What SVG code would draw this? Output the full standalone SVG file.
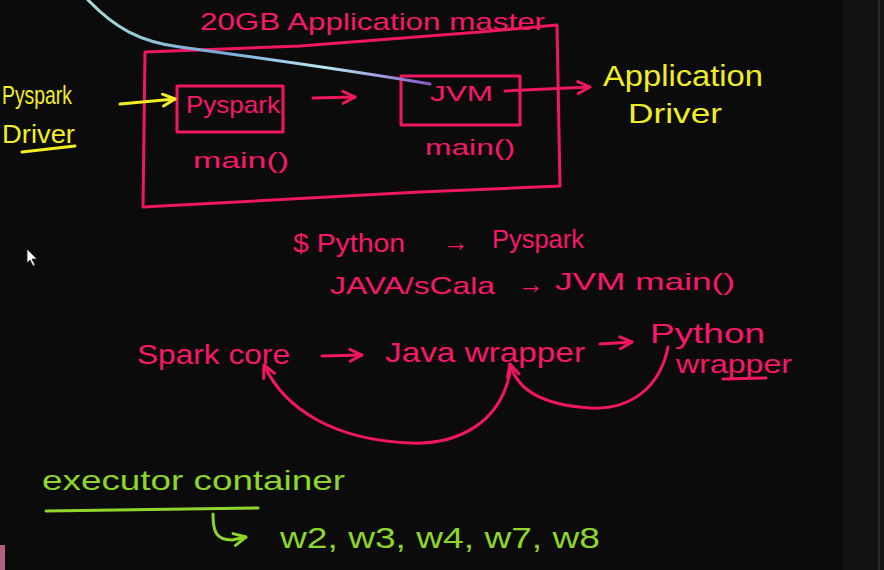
<svg xmlns="http://www.w3.org/2000/svg" width="884" height="570" viewBox="0 0 884 570">
<defs>
<style>
.p{fill:#f7186a;font-family:"Liberation Sans",Arial,sans-serif}
.y{fill:#f2ee22;font-family:"Liberation Sans",Arial,sans-serif}
.g{fill:#8ed62a;font-family:"Liberation Sans",Arial,sans-serif}
.ps{fill:none;stroke:#f0175f;stroke-width:3;stroke-linecap:round;stroke-linejoin:round}
.ys{fill:none;stroke:#f2ee22;stroke-width:3;stroke-linecap:round;stroke-linejoin:round}
.gs{fill:none;stroke:#8ed62a;stroke-width:3;stroke-linecap:round;stroke-linejoin:round}
</style>
<linearGradient id="lg" x1="88" y1="0" x2="430" y2="85" gradientUnits="userSpaceOnUse">
<stop offset="0" stop-color="#a8e0d8"/>
<stop offset="0.4" stop-color="#7aa6d8"/>
<stop offset="0.7" stop-color="#b8e8f0"/>
<stop offset="1" stop-color="#8a58c8"/>
</linearGradient>
<marker id="pa" viewBox="0 0 10 10" refX="9" refY="5" markerWidth="5" markerHeight="5" orient="auto"><path d="M1,1 L9,5 L1,9" fill="none" stroke="#f0175f" stroke-width="2" stroke-linecap="round" stroke-linejoin="round"/></marker>
<marker id="ya" viewBox="0 0 10 10" refX="9" refY="5" markerWidth="5" markerHeight="5" orient="auto"><path d="M1,1 L9,5 L1,9" fill="none" stroke="#f2ee22" stroke-width="2" stroke-linecap="round" stroke-linejoin="round"/></marker>
<marker id="ga" viewBox="0 0 10 10" refX="9" refY="5" markerWidth="5" markerHeight="5" orient="auto"><path d="M1,1 L9,5 L1,9" fill="none" stroke="#8ed62a" stroke-width="2" stroke-linecap="round" stroke-linejoin="round"/></marker>
</defs>
<rect width="884" height="570" fill="#0b0b0b"/>
<rect x="842" y="0" width="37" height="570" fill="#121212"/>
<rect x="879" y="0" width="5" height="570" fill="#141414"/>
<line x1="879" y1="0" x2="879" y2="570" stroke="#3a3a3a" stroke-width="1"/>
<rect x="0" y="545" width="5" height="25" fill="#b06080"/>

<g id="app-master">
<text class="p" x="200" y="30" font-size="24" textLength="345" lengthAdjust="spacingAndGlyphs">20GB Application master</text>
<path class="ps" d="M145,52 L300,46 L480,32 L557,25 L560,186 L420,192 L143,207 L145,52"/>
</g>

<g id="pyspark">
<rect class="ps" x="177" y="86" width="106" height="46"/>
<text class="p" x="186" y="113" font-size="24" textLength="94" lengthAdjust="spacingAndGlyphs">Pyspark</text>
<text class="p" x="193" y="168" font-size="22" textLength="96" lengthAdjust="spacingAndGlyphs">main()</text>
</g>

<g id="jvm">
<rect class="ps" x="401" y="76" width="119" height="49"/>
<text class="p" x="430" y="101" font-size="22" textLength="63" lengthAdjust="spacingAndGlyphs">JVM</text>
<text class="p" x="425" y="155" font-size="22" textLength="90" lengthAdjust="spacingAndGlyphs">main()</text>
</g>

<g id="app-driver">
<text class="y" x="603" y="86" font-size="30" textLength="160" lengthAdjust="spacingAndGlyphs">Application</text>
<text class="y" x="628" y="123" font-size="28" textLength="94" lengthAdjust="spacingAndGlyphs">Driver</text>
</g>

<g id="pyspark-driver">
<text class="y" x="2" y="104" font-size="26" textLength="70" lengthAdjust="spacingAndGlyphs">Pyspark</text>
<text class="y" x="2" y="143" font-size="26" textLength="73" lengthAdjust="spacingAndGlyphs">Driver</text>
<line class="ys" x1="22" y1="152" x2="75" y2="146"/>
</g>

<g id="notes">
<text class="p" x="293" y="252" font-size="26" textLength="112" lengthAdjust="spacingAndGlyphs">$ Python</text>
<text class="p" x="443" y="251" font-size="26">→</text>
<text class="p" x="492" y="248" font-size="26" textLength="92" lengthAdjust="spacingAndGlyphs">Pyspark</text>
<text class="p" x="330" y="294" font-size="24" textLength="165" lengthAdjust="spacingAndGlyphs">JAVA/sCala</text>
<text class="p" x="518" y="293" font-size="26">→</text>
<text class="p" x="555" y="290" font-size="24" textLength="180" lengthAdjust="spacingAndGlyphs">JVM main()</text>
</g>

<g id="spark-core">
<text class="p" x="137" y="364" font-size="28" textLength="153" lengthAdjust="spacingAndGlyphs">Spark core</text>
</g>
<g id="java-wrapper">
<text class="p" x="385" y="362" font-size="28" textLength="200" lengthAdjust="spacingAndGlyphs">Java wrapper</text>
</g>
<g id="python-wrapper">
<text class="p" x="650" y="343" font-size="28" textLength="115" lengthAdjust="spacingAndGlyphs">Python</text>
<text class="p" x="676" y="373" font-size="26" textLength="116" lengthAdjust="spacingAndGlyphs">wrapper</text>
<line class="ps" x1="723" y1="379" x2="766" y2="378"/>
</g>

<g id="connectors">
<path d="M88,0 C115,28 140,42 180,47 C260,58 360,72 430,84" fill="none" stroke="url(#lg)" stroke-width="3" stroke-linecap="round"/>
<path class="ys" d="M120,104 L175,99" marker-end="url(#ya)"/>
<path class="ps" d="M313,98 L355,97" marker-end="url(#pa)"/>
<path class="ps" d="M505,91 L590,87" marker-end="url(#pa)"/>
<path class="ps" d="M322,356 L362,355" marker-end="url(#pa)"/>
<path class="ps" d="M600,344 L632,342" marker-end="url(#pa)"/>
<path class="ps" d="M510,372 C500,425 455,445 410,443 C335,440 285,410 264,365" marker-end="url(#pa)"/>
<path class="ps" d="M668,347 C660,388 630,410 590,408 C545,405 518,392 510,364" marker-end="url(#pa)"/>
<path class="gs" d="M213,514 C213,530 215,540 232,540 L246,537" marker-end="url(#ga)"/>
</g>

<g id="executor">
<text class="g" x="42" y="490" font-size="28" textLength="303" lengthAdjust="spacingAndGlyphs">executor container</text>
<line class="gs" x1="46" y1="511" x2="258" y2="508"/>
<text class="g" x="280" y="548" font-size="30" textLength="320" lengthAdjust="spacingAndGlyphs">w2, w3, w4, w7, w8</text>
</g>

<path d="M27,249 L27,263 L30,260 L33,266 L35,265 L32,259 L37,259 Z" fill="#ffffff" stroke="#222" stroke-width="0.8"/>
</svg>
